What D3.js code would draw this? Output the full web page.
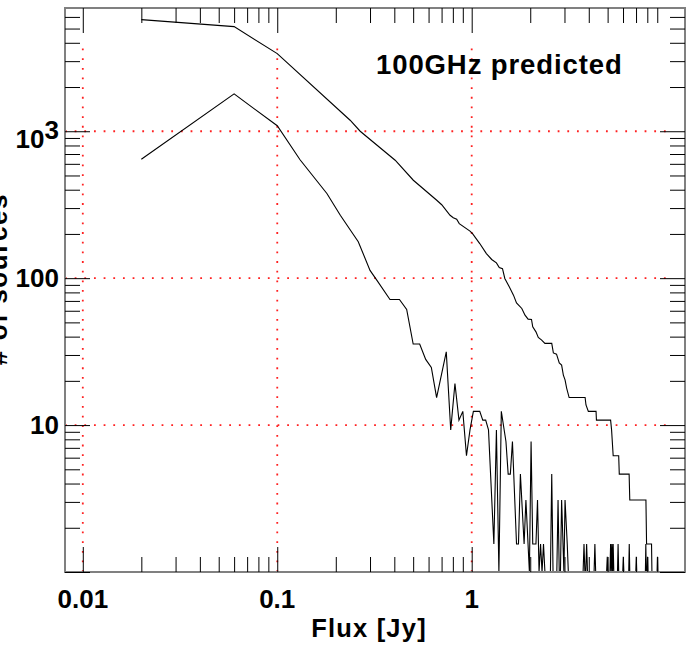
<!DOCTYPE html>
<html>
<head>
<meta charset="utf-8">
<script src="https://cdn.jsdelivr.net/npm/d3@7"></script>
<style>
  html, body { margin: 0; padding: 0; background: #fff; }
  svg { display: block; }
  text { font-family: "Liberation Sans", Arial, Helvetica, sans-serif; font-weight: bold; fill: #000; }
</style>
</head>
<body>
<svg id="chart" width="692" height="654"></svg>
<script>
// Differential source counts per flux bin: [flux (Jy), count]
const lowerSeries = [
  [0.02, 645], [0.06, 1795], [0.10, 1090], [0.131, 640], [0.18, 377], [0.211, 268],
  [0.261, 177], [0.300, 113], [0.325, 97], [0.38, 71.6], [0.425, 71.6], [0.463, 61.2],
  [0.50, 35.6], [0.54, 35.6], [0.58, 28.0], [0.62, 24.7], [0.66, 15.4], [0.74, 31.5],
  [0.78, 9.27], [0.82, 19.2], [0.86, 10.8], [0.90, 12.4], [0.94, 6.18], [0.98, 9.27],
  [1.02, 12.4], [1.10, 12.4], [1.14, 10.8], [1.18, 10.8], [1.22, 9.27], [1.30, 1.55],
  [1.34, 9.27], [1.38, 0], [1.42, 12.4], [1.50, 7.73], [1.54, 4.64], [1.58, 4.64],
  [1.62, 7.73], [1.70, 1.55], [1.74, 1.55], [1.78, 4.64], [1.86, 1.55], [1.90, 3.09],
  [1.98, 0], [2.02, 7.73], [2.06, 1.55], [2.14, 1.55], [2.18, 3.09], [2.22, 0],
  [2.26, 1.55], [2.30, 0], [2.34, 1.55], [2.38, 0], [2.54, 0], [2.58, 4.64], [2.62, 0],
  [2.74, 0], [2.78, 3.09], [2.82, 0], [2.86, 0], [2.90, 3.09], [2.98, 0], [3.02, 3.09],
  [3.10, 1.55], [3.14, 0], [3.74, 0], [3.78, 1.55], [3.82, 0], [3.86, 0], [3.90, 1.55],
  [3.94, 0], [4.26, 0], [4.30, 1.55], [4.34, 0], [4.94, 0], [4.98, 1.27], [5.02, 0],
  [5.14, 0], [5.18, 1.55], [5.22, 0], [5.26, 1.55], [5.30, 0], [5.34, 1.55], [5.38, 0],
  [5.62, 0], [5.66, 1.55], [5.70, 0], [5.98, 0], [6.02, 1.27], [6.06, 0],
  [6.42, 0], [6.46, 1.55], [6.50, 0], [6.98, 0], [7.02, 1.27], [7.06, 0],
  [7.82, 0], [7.86, 1.55], [7.90, 0], [7.98, 0], [8.02, 1.27], [8.06, 0],
  [8.98, 0], [9.02, 1.27], [9.06, 0]
];

// Cumulative source counts above each flux: [flux (Jy), count]
const upperSeries = [
  [0.02, 5750], [0.06, 5155], [0.10, 3378], [0.237, 1188], [0.267, 1000], [0.404, 635],
  [0.501, 464], [0.661, 339], [0.701, 316], [0.774, 268], [0.804, 258], [0.837, 252],
  [0.863, 235], [0.98, 209], [1.01, 201], [1.10, 172], [1.19, 147], [1.267, 134],
  [1.34, 127], [1.386, 118], [1.44, 116], [1.48, 99.5], [1.56, 87.3], [1.64, 76.6],
  [1.70, 67.9], [1.81, 62.2], [1.88, 56.0], [1.95, 52.6], [2.03, 52.4], [2.06, 46.6],
  [2.14, 43.1], [2.20, 39.5], [2.29, 37.9], [2.38, 36.0], [2.58, 36.0], [2.63, 31.0],
  [2.73, 30.4], [2.82, 26.5], [2.90, 25.6], [2.96, 21.9], [3.02, 20.3], [3.08, 17.8],
  [3.17, 15.4], [3.83, 15.4], [3.87, 13.7], [3.98, 12.4], [4.36, 12.4], [4.38, 10.8],
  [5.18, 10.8], [5.24, 9.27], [5.34, 6.18], [5.70, 6.18], [5.74, 4.64], [6.45, 4.64],
  [6.50, 3.09], [7.87, 3.09], [7.93, 1.55], [8.41, 1.55], [8.45, 0]
];

// Axis ticks
const xMajorTicks = [0.01, 0.1, 1];
const xTickLabels = ["0.01", "0.1", "1"];
const xMinorTicks = [0.02, 0.03, 0.04, 0.05, 0.06, 0.07, 0.08, 0.09,
                     0.2, 0.3, 0.4, 0.5, 0.6, 0.7, 0.8, 0.9,
                     2, 3, 4, 5, 6, 7, 8, 9];
const yMajorTicks = [1, 10, 100, 1000];
const yLabelTicks = [10, 100, 1000];
const yTickLabels = ["10", "100", "10^3"];
const yMinorTicks = [2, 3, 4, 5, 6, 7, 8, 9,
                     20, 30, 40, 50, 60, 70, 80, 90,
                     200, 300, 400, 500, 600, 700, 800, 900,
                     2000, 3000, 4000, 5000, 6000];
// Dotted reference grid
const gridX = [0.01, 0.1, 1];
const gridY = [10, 100, 1000];
const gridXTop = 4000;
const gridYRight = 10;

const titleText = "100GHz predicted";
const xTitle = "Flux [Jy]";
const yTitle = "# of sources";

const svg = d3.select("#chart");
const plotL = 65, plotR = 685, plotT = 8, plotB = 572;

const x = d3.scaleLog().domain([0.0081, 12.5]).range([plotL, plotR]);
const y = d3.scaleLog().domain([1, 6900]).range([plotB, plotT]);
const yv = v => y(Math.max(v, 1));

// grid
const gridG = svg.append("g")
  .attr("stroke", "#ff2020")
  .attr("stroke-width", 1.8)
  .attr("stroke-dasharray", "1.8 7.86")
  .attr("fill", "none");
gridY.forEach(v => {
  gridG.append("line")
    .attr("x1", x.range()[0]).attr("x2", x(gridYRight))
    .attr("y1", y(v)).attr("y2", y(v));
});
gridX.forEach(v => {
  gridG.append("line")
    .attr("x1", x(v)).attr("x2", x(v))
    .attr("y1", y(1)).attr("y2", y(gridXTop));
});

// curves
const line = d3.line().x(d => x(d[0])).y(d => yv(d[1]));
svg.append("path").datum(lowerSeries)
  .attr("d", line).attr("fill", "none").attr("stroke", "#000").attr("stroke-width", 1.1);
svg.append("path").datum(upperSeries)
  .attr("d", line).attr("fill", "none").attr("stroke", "#000").attr("stroke-width", 1.1);

// frame
svg.append("rect")
  .attr("x", plotL).attr("y", plotT)
  .attr("width", plotR - plotL).attr("height", plotB - plotT)
  .attr("fill", "none").attr("stroke", "#808080").attr("stroke-width", 2);

// ticks via d3 axes, drawn inward
function ticks(axisFn, scale, values, size, transform) {
  const g = svg.append("g").attr("transform", transform)
    .call(axisFn(scale).tickValues(values).tickSize(-size).tickFormat(""));
  g.select(".domain").remove();
  g.selectAll(".tick line").attr("stroke", "#000").attr("stroke-width", 1);
  g.selectAll(".tick text").remove();
}
ticks(d3.axisBottom, x, xMajorTicks, 25, `translate(0,${plotB})`);
ticks(d3.axisBottom, x, xMinorTicks, 15, `translate(0,${plotB})`);
ticks(d3.axisTop, x, xMajorTicks, 25, `translate(0,${plotT})`);
ticks(d3.axisTop, x, xMinorTicks, 15, `translate(0,${plotT})`);
ticks(d3.axisLeft, y, yMajorTicks, 25, `translate(${plotL},0)`);
ticks(d3.axisLeft, y, yMinorTicks, 15, `translate(${plotL},0)`);
ticks(d3.axisRight, y, yMajorTicks, 25, `translate(${plotR},0)`);
ticks(d3.axisRight, y, yMinorTicks, 15, `translate(${plotR},0)`);

// x tick labels
xMajorTicks.forEach((v, i) => {
  svg.append("text")
    .attr("x", x(v)).attr("y", 607.5)
    .attr("text-anchor", "middle")
    .attr("font-size", 26)
    .text(xTickLabels[i]);
});

// y tick labels
yLabelTicks.forEach((v, i) => {
  const lbl = yTickLabels[i];
  const t = svg.append("text")
    .attr("x", 59).attr("text-anchor", "end")
    .attr("font-size", 26);
  if (lbl.includes("^")) {
    const [base, exp] = lbl.split("^");
    t.attr("y", y(v) + 16.5);
    t.append("tspan").text(base);
    t.append("tspan").attr("dy", -8.5).text(exp);
  } else {
    t.attr("y", y(v) + 9.3).text(lbl);
  }
});

// axis titles
svg.append("text")
  .attr("x", 369).attr("y", 636.5)
  .attr("text-anchor", "middle")
  .attr("font-size", 25.5)
  .attr("letter-spacing", 1.2)
  .text(xTitle);

svg.append("text")
  .attr("transform", "translate(7,279) rotate(-90)")
  .attr("text-anchor", "middle")
  .attr("font-size", 26)
  .attr("letter-spacing", 1.6)
  .text(yTitle);

// plot label
svg.append("text")
  .attr("x", 376).attr("y", 74)
  .attr("font-size", 27.5)
  .attr("letter-spacing", 0.9)
  .text(titleText);
</script>
</body>
</html>
